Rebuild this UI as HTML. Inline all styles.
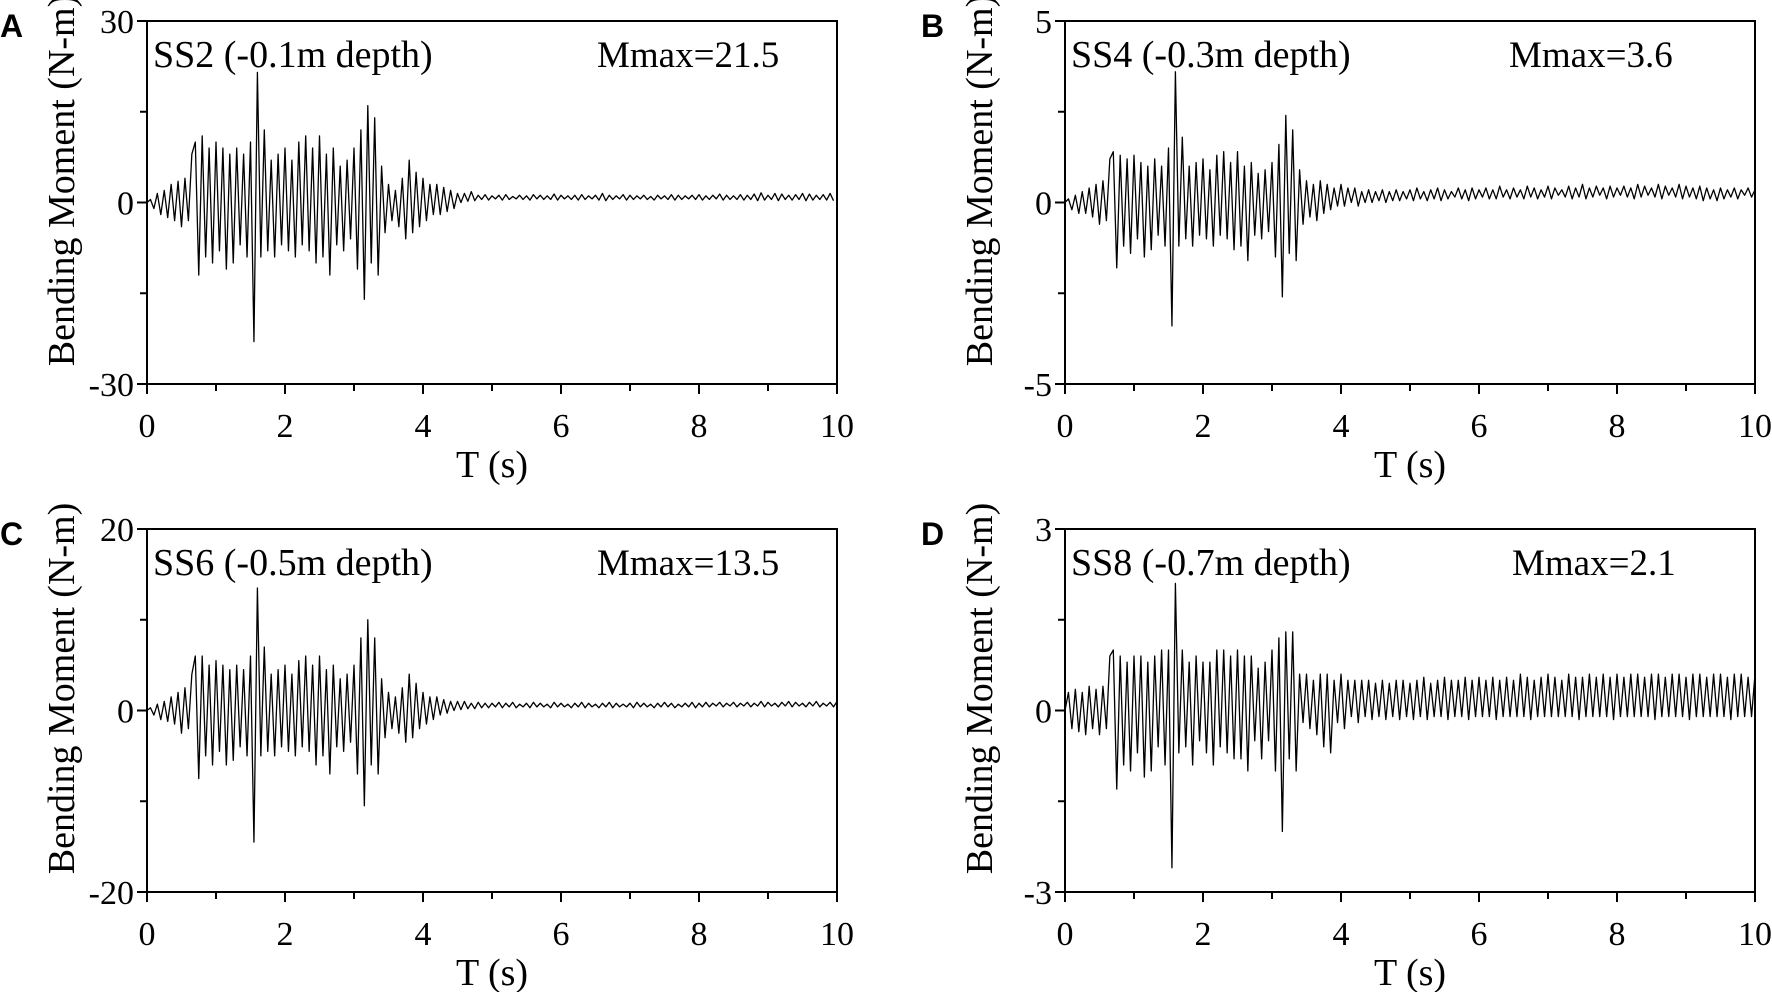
<!DOCTYPE html>
<html><head><meta charset="utf-8"><style>
html,body{margin:0;padding:0;background:#fff;}
svg{display:block;font-family:"Liberation Serif",serif;}
.lbl{font-family:"Liberation Sans",sans-serif;font-weight:bold;font-size:32px;}
</style></head><body>
<svg id="fig" width="1772" height="992" viewBox="0 0 1772 992" xmlns="http://www.w3.org/2000/svg"></svg>
<script>
// sample step (s) for every series
const dt = 0.05;
const xTicks = [0,2,4,6,8,10];
const seriesA = [0,0.5,-1,1.5,-2,2,-2.5,3,-3,3.5,-4,4,-3,8,10,-12,11,-9,9,-10,10,-8,9,-11,8,-10,9,-7,8,-9,10,-23,21.5,-9,12,-8,7,-9,8,-7,9,-8,7,-9,10,-7,11,-8,9,-10,11,-9,8,-12,9,-7,6,-8,7,-6,9,-11,12,-16,16,-10,14,-12,6,-5,3,-3,2,-4,4,-6,7,-5,5,-4,4,-3,3,-2,3,-2,2.5,-1.5,2,-1,1.5,0,1.5,0.2,1.8,0.3,1.2,0.5,1.3,0.4,1.1,0.6,1.2,0.4,1.3,0.5,1.0,0.6,1.2,0.5,1.1,0.4,1.3,0.6,1.2,0.5,1.1,0.5,1.4,0.4,1.2,0.6,1.1,0.5,1.2,0.4,1.3,0.5,1.1,0.6,1.2,0.4,1.5,0.3,1.2,0.5,1.1,0.6,1.3,0.4,1.2,0.5,1.1,0.6,1.2,0.5,1.0,0.4,1.2,0.6,1.1,0.5,1.3,0.4,1.2,0.5,1.1,0.6,1.2,0.5,1.3,0.4,1.1,0.5,1.2,0.6,1.4,0.4,1.2,0.5,1.1,0.5,1.3,0.4,1.2,0.5,1.4,0.3,1.6,0.4,1.2,0.5,1.5,0.3,1.4,0.5,1.2,0.4,1.3,0.5,1.5,0.3,1.4,0.4,1.2,0.5,1.3,0.4,1.5,0.3];
const seriesB = [0,0.1,-0.2,0.2,-0.3,0.3,-0.3,0.4,-0.4,0.5,-0.6,0.6,-0.5,1.2,1.4,-1.8,1.3,-1.2,1.2,-1.4,1.3,-1.0,1.1,-1.5,1.0,-1.3,1.2,-0.9,1.0,-1.2,1.5,-3.4,3.6,-1.2,1.8,-1.0,1.0,-1.2,1.1,-0.9,1.2,-1.0,0.9,-1.2,1.3,-0.9,1.4,-1.0,1.1,-1.3,1.4,-1.2,1.0,-1.6,1.1,-0.9,0.8,-1.0,0.9,-0.8,1.1,-1.5,1.6,-2.6,2.4,-1.4,2.0,-1.6,0.9,-0.6,0.6,-0.4,0.5,-0.5,0.6,-0.3,0.5,-0.2,0.4,-0.1,0.5,-0.1,0.4,0,0.4,-0.1,0.3,0,0.35,0,0.3,0.05,0.35,0,0.3,0.05,0.35,0.05,0.3,0.1,0.35,0.05,0.4,0.1,0.3,0.05,0.35,0.1,0.4,0.05,0.35,0.1,0.3,0.15,0.4,0.1,0.35,0.05,0.4,0.1,0.35,0.15,0.4,0.1,0.35,0.1,0.45,0.15,0.35,0.1,0.4,0.15,0.35,0.1,0.45,0.15,0.4,0.1,0.35,0.15,0.45,0.1,0.4,0.2,0.35,0.15,0.45,0.1,0.4,0.15,0.5,0.1,0.4,0.15,0.45,0.2,0.4,0.1,0.45,0.15,0.4,0.2,0.45,0.15,0.4,0.1,0.5,0.15,0.45,0.2,0.4,0.15,0.5,0.1,0.45,0.2,0.4,0.15,0.5,0.1,0.45,0.15,0.4,0.1,0.45,0.05,0.4,0.1,0.35,0.05,0.4,0.1,0.35,0.15,0.4,0.1,0.35,0.2,0.4,0.15,0.35,0.1,0.4,0.15,0.3,0.2,0.35,0.15];
const seriesC = [0,0.3,-0.5,0.7,-1,1,-1.2,1.5,-1.5,2,-2.5,2.5,-2,4,6,-7.5,6,-5,5,-6,5.5,-4.5,5,-6,4.5,-5.5,5,-4,4.5,-5,6,-14.5,13.5,-5,7,-4.5,4,-5,4.5,-4,5,-4.5,4,-5,5.5,-4,6,-4.5,5,-6,6,-5,4.5,-7,5,-4,3.5,-4.5,4,-3.5,5,-7,8,-10.5,10,-6,8,-7,3.5,-3,2,-2,1.5,-2.5,2.5,-3.5,4,-3,3,-2,2,-1.5,1.5,-1,1.5,-0.5,1.2,-0.3,1,0,1,0.1,1,0.2,0.8,0.2,0.9,0.3,0.8,0.3,0.8,0.4,0.9,0.3,0.8,0.4,0.9,0.3,0.7,0.4,0.8,0.3,0.9,0.4,0.8,0.4,0.7,0.3,0.9,0.4,0.8,0.4,0.7,0.3,0.8,0.4,0.9,0.3,0.8,0.4,0.7,0.3,0.8,0.4,0.9,0.3,0.8,0.4,0.7,0.4,0.8,0.3,0.9,0.4,0.8,0.4,0.7,0.3,0.8,0.4,0.9,0.4,0.8,0.3,0.7,0.4,0.8,0.4,0.9,0.3,0.8,0.4,0.9,0.4,0.8,0.5,0.9,0.4,0.8,0.5,0.9,0.4,0.8,0.5,0.9,0.4,0.8,0.5,1.0,0.4,0.9,0.5,0.8,0.4,0.9,0.5,1.0,0.4,0.9,0.5,0.8,0.4,0.9,0.5,1.0,0.4,0.8,0.5,0.9,0.4,1.0,0.5];
const seriesD = [0,0.3,-0.3,0.35,-0.35,0.3,-0.4,0.4,-0.3,0.35,-0.4,0.4,-0.3,0.9,1.0,-1.3,0.9,-0.9,0.8,-1.0,0.9,-0.7,0.9,-1.1,0.8,-1.0,0.9,-0.6,1.0,-0.9,1.0,-2.6,2.1,-0.7,1.0,-0.6,0.8,-0.9,0.9,-0.5,0.8,-0.7,0.8,-0.9,1.0,-0.6,1.0,-0.7,0.9,-0.8,1.0,-0.8,0.9,-1.0,0.9,-0.5,0.7,-0.8,0.8,-0.5,1.0,-1.0,1.2,-2.0,1.3,-0.8,1.3,-1.0,0.6,-0.2,0.6,-0.3,0.5,-0.4,0.6,-0.6,0.6,-0.7,0.5,-0.2,0.6,-0.3,0.5,-0.1,0.5,-0.2,0.5,-0.1,0.5,-0.15,0.45,-0.1,0.5,-0.15,0.45,-0.1,0.5,-0.15,0.5,-0.1,0.45,-0.15,0.5,-0.1,0.55,-0.15,0.45,-0.1,0.5,-0.1,0.55,-0.15,0.5,-0.1,0.5,-0.1,0.55,-0.15,0.5,-0.1,0.55,-0.1,0.5,-0.1,0.55,-0.15,0.5,-0.1,0.55,-0.1,0.5,-0.1,0.6,-0.1,0.55,-0.15,0.5,-0.1,0.55,-0.1,0.6,-0.1,0.55,-0.1,0.5,-0.1,0.6,-0.1,0.55,-0.15,0.55,-0.1,0.6,-0.1,0.55,-0.1,0.6,-0.1,0.55,-0.15,0.6,-0.1,0.55,-0.1,0.6,-0.1,0.6,-0.1,0.55,-0.1,0.6,-0.15,0.6,-0.1,0.55,-0.1,0.6,-0.1,0.6,-0.1,0.55,-0.15,0.6,-0.1,0.6,-0.1,0.55,-0.1,0.6,-0.1,0.6,-0.1,0.55,-0.15,0.6,-0.1,0.6,-0.1,0.55,-0.1,0.6,-0.15,0.6,-0.1,0.55,-0.1,0.6,-0.1];
const yMaxA = 30, yMaxB = 5, yMaxC = 20, yMaxD = 3;

const NS = "http://www.w3.org/2000/svg";
const svg = document.getElementById('fig');
function mk(tag, attrs, parent, text){
  const e = document.createElementNS(NS, tag);
  for (const k in attrs) e.setAttribute(k, attrs[k]);
  if (text !== undefined) e.textContent = text;
  (parent||svg).appendChild(e);
  return e;
}
const defs = mk('defs', {});
function panel(id, L, R, T, B, yMax, series, letter, letterX, name, mmax, mmaxX){
  const g = mk('g', {});
  
  
  const cp = mk('clipPath', {id:'clip-'+id}, defs);
  mk('rect', {x:L, y:T, width:R-L, height:B-T}, cp);
  const xs = t => L + (t/10)*(R-L);
  const ys = v => T + (yMax - v)/(2*yMax)*(B-T);
  let d = '';
  series.forEach((v,i)=>{ d += (i?'L':'M') + xs(i*dt).toFixed(2) + ' ' + ys(v).toFixed(2); });
  const p = mk('path', {d:d, fill:'none', stroke:'#000', 'stroke-width':1.3, 'stroke-linejoin':'round', 'clip-path':`url(#clip-${id})`}, g);
  
  
  const fr = mk('rect', {x:L, y:T, width:R-L, height:B-T, fill:'none', stroke:'#000', 'stroke-width':2}, g);
  
  
  for (let t=0; t<=10; t++){
    const major = t%2===0;
    mk('line', {x1:xs(t), x2:xs(t), y1:B, y2:B+(major?10:7), stroke:'#000','stroke-width':2}, g);
  }
  xTicks.forEach(t=>{
    const tx = mk('text', {x:xs(t), y:B+53, 'text-anchor':'middle', 'font-size':34}, g, String(t));
    
    
  });
  const xt = mk('text', {x:(L+R)/2, y:B+93, 'text-anchor':'middle', 'font-size':38}, g, 'T (s)');
  
  
  [-yMax, -yMax/2, 0, yMax/2, yMax].forEach((v,i)=>{
    const major = i%2===0;
    mk('line', {x1:L-(major?10:7), x2:L, y1:ys(v), y2:ys(v), stroke:'#000','stroke-width':2}, g);
  });
  [-yMax, 0, yMax].forEach(v=>{
    const ty = mk('text', {x:L-13, y:ys(v)+12, 'text-anchor':'end', 'font-size':34}, g, String(v));
    
    
  });
  const yt = mk('text', {x:0, y:0, 'text-anchor':'middle', 'font-size':38, transform:`translate(${L-73},${(T+B)/2-22}) rotate(-90)`}, g, 'Bending Moment (N-m)');
  
  
  const a1 = mk('text', {x:L+6, y:T+46, 'font-size':38}, g, name);
  
  
  const a2 = mk('text', {x:mmaxX, y:T+46, 'font-size':37}, g, mmax);
  
  
  const pl = mk('text', {x:letterX, y:T+16, class:'lbl'}, g, letter);
  
  
}
panel('a', 147, 837, 21, 384, yMaxA, seriesA, 'A', 0, 'SS2 (-0.1m depth)', 'Mmax=21.5', 597);
panel('b', 1065, 1755, 21, 384, yMaxB, seriesB, 'B', 921, 'SS4 (-0.3m depth)', 'Mmax=3.6', 1509);
panel('c', 147, 837, 529, 892, yMaxC, seriesC, 'C', 0, 'SS6 (-0.5m depth)', 'Mmax=13.5', 597);
panel('d', 1065, 1755, 529, 892, yMaxD, seriesD, 'D', 921, 'SS8 (-0.7m depth)', 'Mmax=2.1', 1512);
</script>
</body></html>
